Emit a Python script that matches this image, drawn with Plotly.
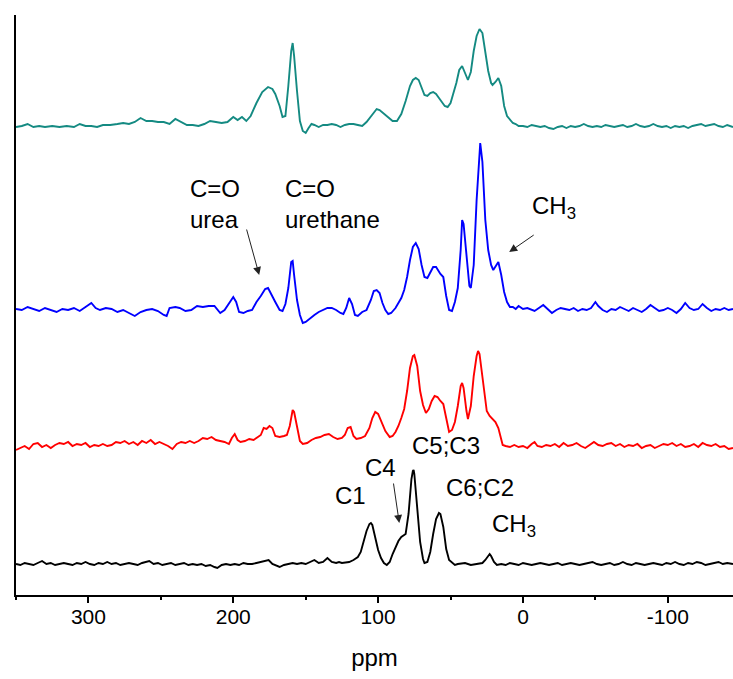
import plotly.graph_objects as go

# ---------------- data (ppm, relative intensity) ----------------
ppm_teal = [350,346,342,338,334,330,325,320,315,310,306,302,298,294,290,285,280,276,272,268,264,260,256,252,248,244,240,236,232,228,224,220,216,212,208,204,200,197,194,191,188,184,180,176,173,171,168,166,164,162,160,159,158,156,154,152,150,148,146,144,141,138,135,132,129,126,123,120,117,114,111,108,104,101,99,96,93,90,87,84,81,78,76,74,72,70,68,66,64,62,60,58,56,54,52,50,48,46,44,42,40,38,36,34,32,30,28,26,24,22,21,19,17,15,13,11,9,7,5,3,0,-3,-6,-9,-12,-15,-18,-21,-24,-27,-30,-33,-36,-39,-42,-45,-48,-51,-54,-57,-60,-63,-66,-69,-72,-75,-78,-81,-84,-87,-90,-93,-96,-99,-102,-105,-108,-111,-114,-117,-120,-123,-126,-129,-132,-135,-138,-141,-145]
int_teal = [-1,0,2,-1,0,-1,0,-1,0,-1,2,0,0,-1,1,1,2,3,2,4,8,5,5,4,4,2,7,4,1,1,0,2,5,4,3,4,9,6,9,5,10,23,34,39,37,32,20,9,10,40,75,83,70,35,5,-5,-7,-2,2,1,-1,1,1,2,1,-1,1,2,2,1,0,4,12,17,16,12,8,5,5,12,25,40,46,48,46,38,31,30,33,34,32,28,24,20,19,23,33,43,56,60,53,46,54,75,90,97,93,75,55,43,41,44,48,40,20,10,6,3,2,0,0,-1,1,0,-1,0,-2,-3,-1,0,-2,0,-1,0,2,0,-1,0,-1,1,0,-1,0,1,-1,0,2,0,-1,0,2,0,-1,0,-2,0,-1,0,-2,0,1,2,0,1,2,0,-1,1,-1]

ppm_blue = [350,346,342,338,334,330,326,322,318,314,310,306,302,298,295,292,288,284,280,276,272,268,264,260,256,252,248,246,244,240,237,233,229,225,221,217,213,209,206,203,200,198,196,193,190,187,184,181,178,176,174,171,168,166,164,162,160,159,158,156,154,152,150,147,144,141,138,135,132,129,126,124,122,120,118,116,114,111,108,105,103,101,99,97,95,93,91,88,86,84,82,80,78,76,74,72,70,68,66,64,62,60,58,57,55,53,51,49,47,45,43,42,41,39,37,36,34,32,30,29.5,28,26,24,22,20.5,19,17,15,13,11,9,7,5,3,0,-3,-6,-8,-11,-14,-17,-20,-23,-26,-29,-32,-35,-38,-41,-44,-47,-50,-52,-55,-58,-61,-64,-67,-70,-73,-76,-79,-82,-85,-88,-91,-94,-97,-100,-103,-106,-109,-112,-115,-118,-121,-124,-127,-130,-133,-136,-139,-142,-145]
int_blue = [1,0,3,1,-1,2,0,-2,1,0,2,-1,3,7,2,0,2,1,-2,0,-3,-6,-2,0,1,-1,-5,-6,2,3,2,-1,0,4,3,4,4,-3,0,6,13,8,-2,-3,-1,0,8,14,21,22,16,8,0,-1,6,22,48,49,35,10,-5,-13,-12,-8,-5,-2,0,2,2,0,-3,-4,2,12,6,-5,-6,-2,0,10,19,20,17,7,0,-4,-3,2,7,12,20,33,50,63,67,61,45,33,32,38,43,43,38,36,33,14,0,-1,8,22,60,90,86,55,24,22,45,110,162,167,148,90,60,45,40,44,48,35,18,8,3,3,1,4,1,2,0,-1,2,5,1,-3,0,2,1,0,2,-1,1,0,2,8,4,0,-2,1,0,3,1,-1,2,0,-2,1,5,2,-1,0,2,0,-3,1,7,2,0,1,6,2,-1,1,0,2,0,1]

ppm_red = [350,347,344,341,338,335,332,329,326,323,320,317,314,311,308,305,302,299,296,293,290,287,284,281,278,275,272,269,266,263,260,257,254,251,248,245,242,239,236,233,230,227,224,221,218,215,212,209,206,203,201,199,197,195,192,189,186,183,181,179,177,175,173,171,168,165,163,161,159,158,156,154,152,149,146,143,140,137,134,131,128,125,123,121,119,117,115,112,109,106,104,102,100,98,95,92,90,88,86,84,82,80,78,76,75,73,71,69,67,65,63,61,59,57,55,53,51,49,47,45,43,42,41,39,38,36,34,32,31,30,28,26,25,23,21,19,17,15,14,12,9,6,3,0,-3,-6,-8,-10,-13,-16,-19,-22,-25,-28,-31,-34,-37,-40,-43,-46,-49,-52,-55,-58,-61,-64,-67,-70,-73,-76,-79,-82,-85,-88,-91,-94,-97,-100,-103,-106,-109,-112,-115,-118,-121,-124,-127,-130,-133,-136,-139,-142,-145]
int_red = [-4,-2,0,-3,2,3,-1,1,-2,1,3,2,4,0,2,1,3,-1,1,0,2,0,1,4,3,5,2,4,1,5,3,6,2,4,2,0,-3,2,4,3,5,3,5,8,7,9,6,5,4,2,8,12,6,4,5,7,6,9,11,18,17,20,18,10,9,10,11,20,36,34,18,5,2,3,6,8,9,11,12,9,7,8,11,18,19,10,7,8,10,18,28,34,32,25,15,9,10,14,20,28,37,55,78,90,91,80,55,41,33,37,45,50,49,45,42,28,14,16,24,40,60,63,58,35,27,40,70,90,95,92,70,45,35,30,27,24,18,5,1,0,-1,1,-1,0,-2,2,4,0,-1,1,0,2,-1,3,0,1,3,0,-2,1,4,1,0,2,3,0,2,-1,1,0,2,-2,0,1,-2,0,2,1,3,0,2,-1,0,2,-1,3,1,0,2,-1,0,-3,-2]

ppm_black = [350,347,344,341,338,335,332,329,326,323,320,317,314,311,308,305,302,299,296,293,290,287,284,281,278,275,272,269,266,263,260,258,255,252,249,246,243,240,237,234,231,228,225,222,219,216,213,211,208,205,202,199,196,193,190,187,184,181,178,175.6,173,170,168,165,162,159,156,153,150,147,144,141,138,135,132,129,127,125,120,117,114,112,110,108,106,105,104,102,100,98,96,94,92,90,88,86,84,83,81,79,77,76,75.5,75,73,71,69,68,66,64,62,60,58,57,55,53,51,49,47,45,40,36,32,28,26,24,23,22,20,18,15,12,9,6,3,0,-3,-6,-9,-12,-15,-18,-21,-24,-27,-30,-33,-36,-39,-42,-45,-48,-51,-54,-57,-60,-63,-66,-69,-72,-75,-78,-81,-84,-87,-90,-93,-96,-99,-102,-105,-108,-111,-114,-117,-120,-123,-126,-129,-132,-135,-138,-141,-145]
int_black = [0,-1,1,0,-1,1,3,0,1,-1,0,1,0,-1,1,0,2,0,-1,1,0,2,0,1,-1,0,1,0,-1,1,2,3,0,1,-1,0,1,-1,0,1,-1,0,-1,0,-2,-1,-3,-4,-1,0,-1,0,-1,1,0,0,1,2,3,4,0,-2,-3,-1,0,1,0,1,0,2,4,1,2,6,2,1,2,1,2,4,7,12,22,33,40,41,39,27,14,6,1,-1,2,10,16,23,27,28,30,50,85,93,94,90,55,22,5,1,2,12,30,45,51,50,37,15,4,1,-1,0,1,-1,0,1,4,9,10,8,2,-1,0,-1,1,0,-1,1,0,-1,0,1,0,-1,0,1,-1,0,1,0,-1,0,1,2,0,-1,0,1,-1,0,2,0,-1,1,0,-1,0,1,0,-1,1,0,2,0,-1,1,0,2,1,-1,0,1,2,0,1,0]

# stacking offsets of the four spectra (bottom to top)
offsets = {"black": 31, "red": 149, "blue": 285, "teal": 469}
colors = {"black": "#000000", "red": "#ff0000", "blue": "#0000ff", "teal": "#148a82"}

series = [
    ("black", ppm_black, int_black),
    ("red", ppm_red, int_red),
    ("blue", ppm_blue, int_blue),
    ("teal", ppm_teal, int_teal),
]

fig = go.Figure()
for name, xs, ys in series:
    fig.add_trace(go.Scatter(
        x=xs, y=[v + offsets[name] for v in ys], mode="lines",
        line=dict(color=colors[name], width=1.9), name=name, showlegend=False,
        hoverinfo="skip",
    ))

FONT = "Arial, 'Liberation Sans', sans-serif"
labels = [
    ("C=O<br>urea", 231.4, 391),
    ("C=O<br>urethane", 165.5, 391),
    ("CH<sub>3</sub>", -5.0, 388),
    ("C1", 131.1, 100),
    ("C4", 110.1, 128),
    ("C5;C3", 77.7, 150),
    ("C6;C2", 54.4, 108),
    ("CH<sub>3</sub>", 22.8, 70),
]
for txt, xx, yy in labels:
    fig.add_annotation(x=xx, y=yy, xref="x", yref="y", text=txt, showarrow=False,
                       xanchor="left", yanchor="middle", align="left",
                       font=dict(family=FONT, size=24, color="black"))

arrows = [
    # head ppm, head y, tail dx, tail dy (pixels)
    (182.1, 320, -13, -47),
    (9.5, 343, 26, -18),
    (85.4, 72, -6, -41),
]
for hx, hy, dx, dy in arrows:
    fig.add_annotation(x=hx, y=hy, xref="x", yref="y", text="", showarrow=True,
                       ax=dx, ay=dy, arrowhead=2, arrowsize=1.6, arrowwidth=1,
                       arrowcolor="#222222", standoff=0)

fig.update_layout(
    width=733, height=679,
    margin=dict(l=16, r=0, t=15, b=84),
    plot_bgcolor="white", paper_bgcolor="white",
    font=dict(family=FONT, size=21, color="black"),
    showlegend=False,
)
fig.update_xaxes(
    range=[350, -145], tickvals=[300, 200, 100, 0, -100],
    ticktext=["300", "200", "100", "0", "-100"],
    ticks="outside", ticklen=6, tickwidth=1.5, tickcolor="black",
    minor=dict(dtick=50, tick0=0, ticks="outside", ticklen=3, tickwidth=1.5, tickcolor="black"),
    showline=True, linecolor="black", linewidth=2, mirror=False,
    showgrid=False, zeroline=False,
    tickfont=dict(size=21), ticklabelstandoff=-4,
    title=dict(text="ppm", font=dict(size=24), standoff=22),
)
fig.update_yaxes(
    range=[0, 580], showline=True, linecolor="black", linewidth=2,
    showticklabels=False, ticks="", showgrid=False, zeroline=False,
)

fig.write_html("out.html", config={"displayModeBar": False},
               post_script="document.body.style.margin='0';")
